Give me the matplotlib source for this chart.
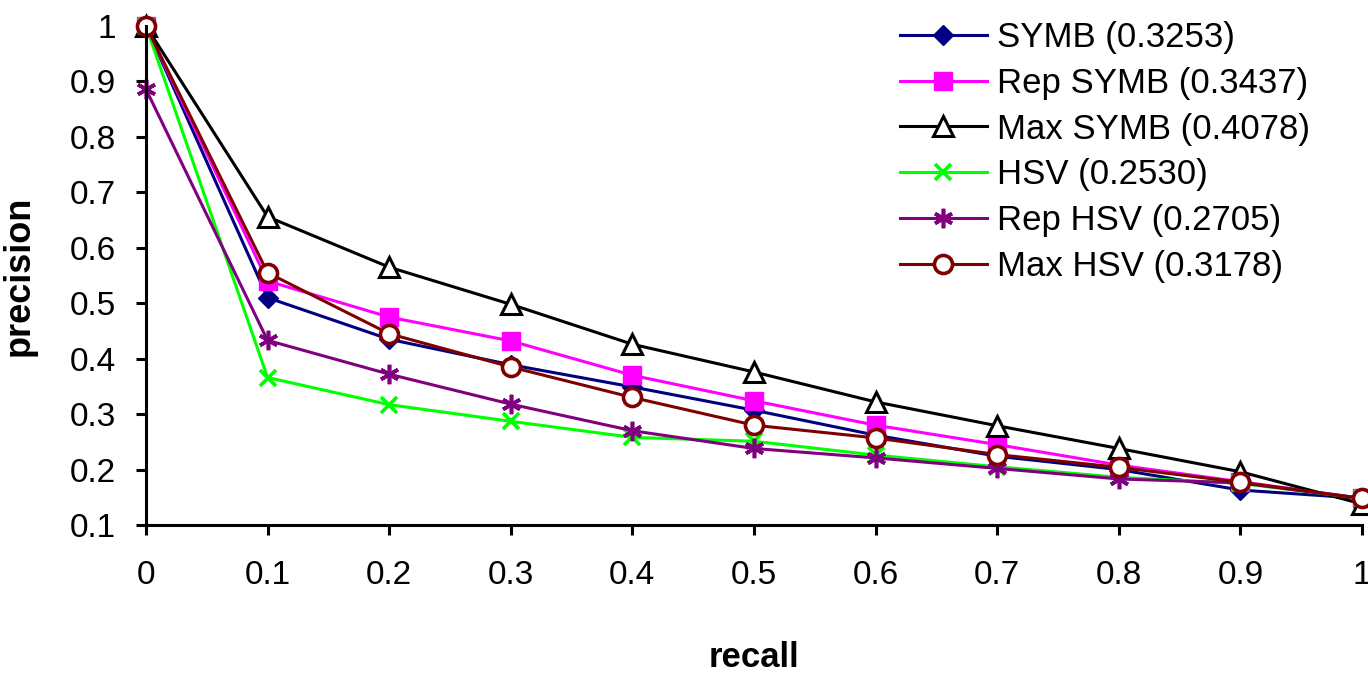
import matplotlib.pyplot as plt
from matplotlib.ticker import FuncFormatter

# recall levels
recall = [0.0, 0.1, 0.2, 0.3, 0.4, 0.5, 0.6, 0.7, 0.8, 0.9, 1.0]

# precision values
symb     = [1.00, 0.51, 0.435, 0.389, 0.349, 0.307, 0.262, 0.224, 0.200, 0.163, 0.148]
rep_symb = [1.00, 0.54, 0.475, 0.432, 0.370, 0.324, 0.280, 0.245, 0.208, 0.178, 0.148]
max_symb = [1.00, 0.656, 0.565, 0.498, 0.426, 0.376, 0.322, 0.279, 0.238, 0.196, 0.138]
hsv      = [1.00, 0.366, 0.317, 0.287, 0.258, 0.251, 0.226, 0.205, 0.186, 0.175, 0.148]
rep_hsv  = [0.886, 0.433, 0.372, 0.318, 0.270, 0.238, 0.221, 0.202, 0.183, 0.176, 0.148]
max_hsv  = [1.00, 0.555, 0.445, 0.385, 0.330, 0.280, 0.257, 0.227, 0.204, 0.177, 0.148]

labels = ["SYMB (0.3253)", "Rep SYMB (0.3437)", "Max SYMB (0.4078)",
          "HSV (0.2530)", "Rep HSV (0.2705)", "Max HSV (0.3178)"]

plt.rcParams['font.family'] = ['Liberation Sans', 'DejaVu Sans']

fig = plt.figure(figsize=(13.68, 6.76), dpi=100)
ax = fig.add_axes([0.1067, 0.2234, 0.8889, 0.7381])

lw = 2.2
ax.plot(recall, symb, color='#000080', lw=lw, marker='D', ms=10.5,
        mfc='#000080', mec='#000080', label=labels[0], clip_on=False)
ax.plot(recall, rep_symb, color='#FF00FF', lw=lw, marker='s', ms=13,
        mfc='#FF00FF', mec='#FF00FF', label=labels[1], clip_on=False)
ax.plot(recall, max_symb, color='black', lw=lw, marker='^', ms=15,
        mfc='white', mec='black', mew=2.2, label=labels[2], clip_on=False)
ax.plot(recall, hsv, color='#00FF00', lw=lw, marker='x', ms=12,
        mec='#00FF00', mew=2.6, label=labels[3], clip_on=False)
ax.plot(recall, rep_hsv, color='#800080', lw=lw, marker=(6, 2, 0), ms=14,
        mec='#800080', mew=2.6, label=labels[4], clip_on=False)
ax.plot(recall, max_hsv, color='#800000', lw=lw, marker='o', ms=13,
        mfc='white', mec='#800000', mew=2.6, label=labels[5], clip_on=False)

ax.set_xlim(0, 1)
ax.set_ylim(0.1, 1)
ax.set_xticks(recall)
ax.set_yticks([0.1, 0.2, 0.3, 0.4, 0.5, 0.6, 0.7, 0.8, 0.9, 1.0])
fmt = FuncFormatter(lambda v, p: '%g' % round(v, 1))
ax.xaxis.set_major_formatter(fmt)
ax.yaxis.set_major_formatter(fmt)

for s in ['top', 'right']:
    ax.spines[s].set_visible(False)
for s in ['left', 'bottom']:
    ax.spines[s].set_linewidth(2.2)
ax.tick_params(axis='both', direction='out', length=7.5, width=2.2, labelsize=24)
ax.tick_params(axis='x', pad=18)
ax.tick_params(axis='y', pad=14)

ax.set_xlabel('recall', fontsize=25, fontweight='bold', labelpad=36)
ax.set_ylabel('precision', fontsize=26, fontweight='bold', labelpad=24)

fig.legend(loc='upper left', bbox_to_anchor=(900 / 1368, 0.969), frameon=False,
           fontsize=25, handlelength=2.5, handletextpad=0.3, labelspacing=0.37,
           borderaxespad=0, borderpad=0)

fig.savefig('out.png', dpi=100)
